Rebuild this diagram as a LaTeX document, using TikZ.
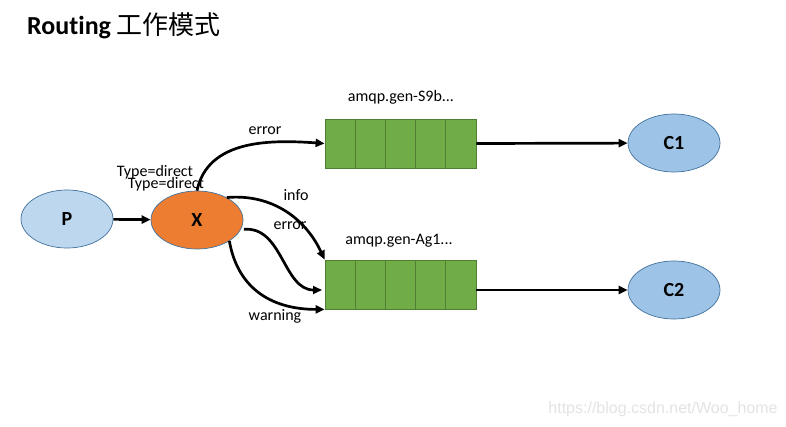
\documentclass[tikz,border=0pt]{standalone}
\usepackage{fontspec}
\setmainfont{Carlito}[Ligatures={NoCommon,NoRare}]
\newfontfamily\cjk{Noto Sans CJK SC}
\newfontfamily\markfont{Liberation Sans}
\usetikzlibrary{arrows.meta,shapes.geometric}

\definecolor{pblue}{HTML}{BDD7EE}
\definecolor{cblue}{HTML}{9DC3E6}
\definecolor{xorange}{HTML}{ED7D31}
\definecolor{qgreen}{HTML}{70AD47}
\definecolor{qborder}{HTML}{507E32}
\definecolor{eborder}{HTML}{41719C}

\begin{document}
\begin{tikzpicture}[x=1pt,y=-1pt,
	role/.style={ellipse,draw=eborder,line width=0.7pt,minimum width=92pt,minimum height=58pt,inner sep=0pt,font=\fontsize{20}{20}\selectfont\bfseries},
	cell/.style={rectangle,draw=qborder,fill=qgreen,line width=0.8pt,minimum width=30.2pt,minimum height=49pt,inner sep=0pt},
	link/.style={-{Triangle[length=9pt,width=8pt]},line width=2.7pt},
	lbl/.style={font=\fontsize{16}{16}\selectfont,inner sep=0pt}]
	\useasboundingbox (0,0) rectangle (786,427);

	% title
	\node[anchor=west,inner sep=0pt] (title) at (27,26)
		{\fontsize{26}{26}\selectfont\bfseries Routing {\cjk\fontsize{26}{26}\selectfont\mdseries 工作模式}};

	% producer, exchange, consumers
	\node[role,fill=pblue] (p) at (67,219) {P};
	\node[role,fill=xorange] (x) at (197,220) {X};
	\node[role,fill=cblue] (c1) at (674,143) {C1};
	\node[role,fill=cblue] (c2) at (674,290) {C2};

	% queues
	\foreach \i in {0,...,4} {
		\node[cell] (qa\i) at (340.1+30.2*\i,143.5) {};
		\node[cell] (qb\i) at (340.1+30.2*\i,284.5) {};
	}
	\node[lbl] (qalbl) at (401,97) {amqp.gen-S9b...};
	\node[lbl] (qblbl) at (399,241) {amqp.gen-Ag1...};

	\coordinate (qbmid) at (322,290);

	\draw[link] (p) -- (x);
	\draw[link] (qa4.east) -- (c1);
	\draw[link] (qb4.east |- c2) -- (c2);

	\draw[link] (x.north) to[out=78,in=176] (qa0.west);
	\draw[link] (x.37) to[out=5,in=115] (qb0.north west);
	\draw[link] ([xshift=3pt]x.-12) to[out=5,in=180] (qbmid);
	\draw[link] (x.-33) to[out=-80,in=180,looseness=1.1] (qb0.south west);

	% routing keys
	\node[lbl] (keya) at (265,131) {error};
	\node[lbl] (keyb) at (296,195) {info};
	\node[lbl] (keyc) at (290,226) {error};
	\node[lbl] (keyd) at (275,316) {warning};
	\node[lbl] (typea) at (155,172) {Type=direct};
	\node[lbl] (typeb) at (166,184) {Type=direct};

	% watermark
	\node[inner sep=0pt,text=black!11,font=\markfont\fontsize{16}{16}\selectfont] (mark) at (663,409) {https://blog.csdn.net/Woo\_home};
\end{tikzpicture}
\end{document}
